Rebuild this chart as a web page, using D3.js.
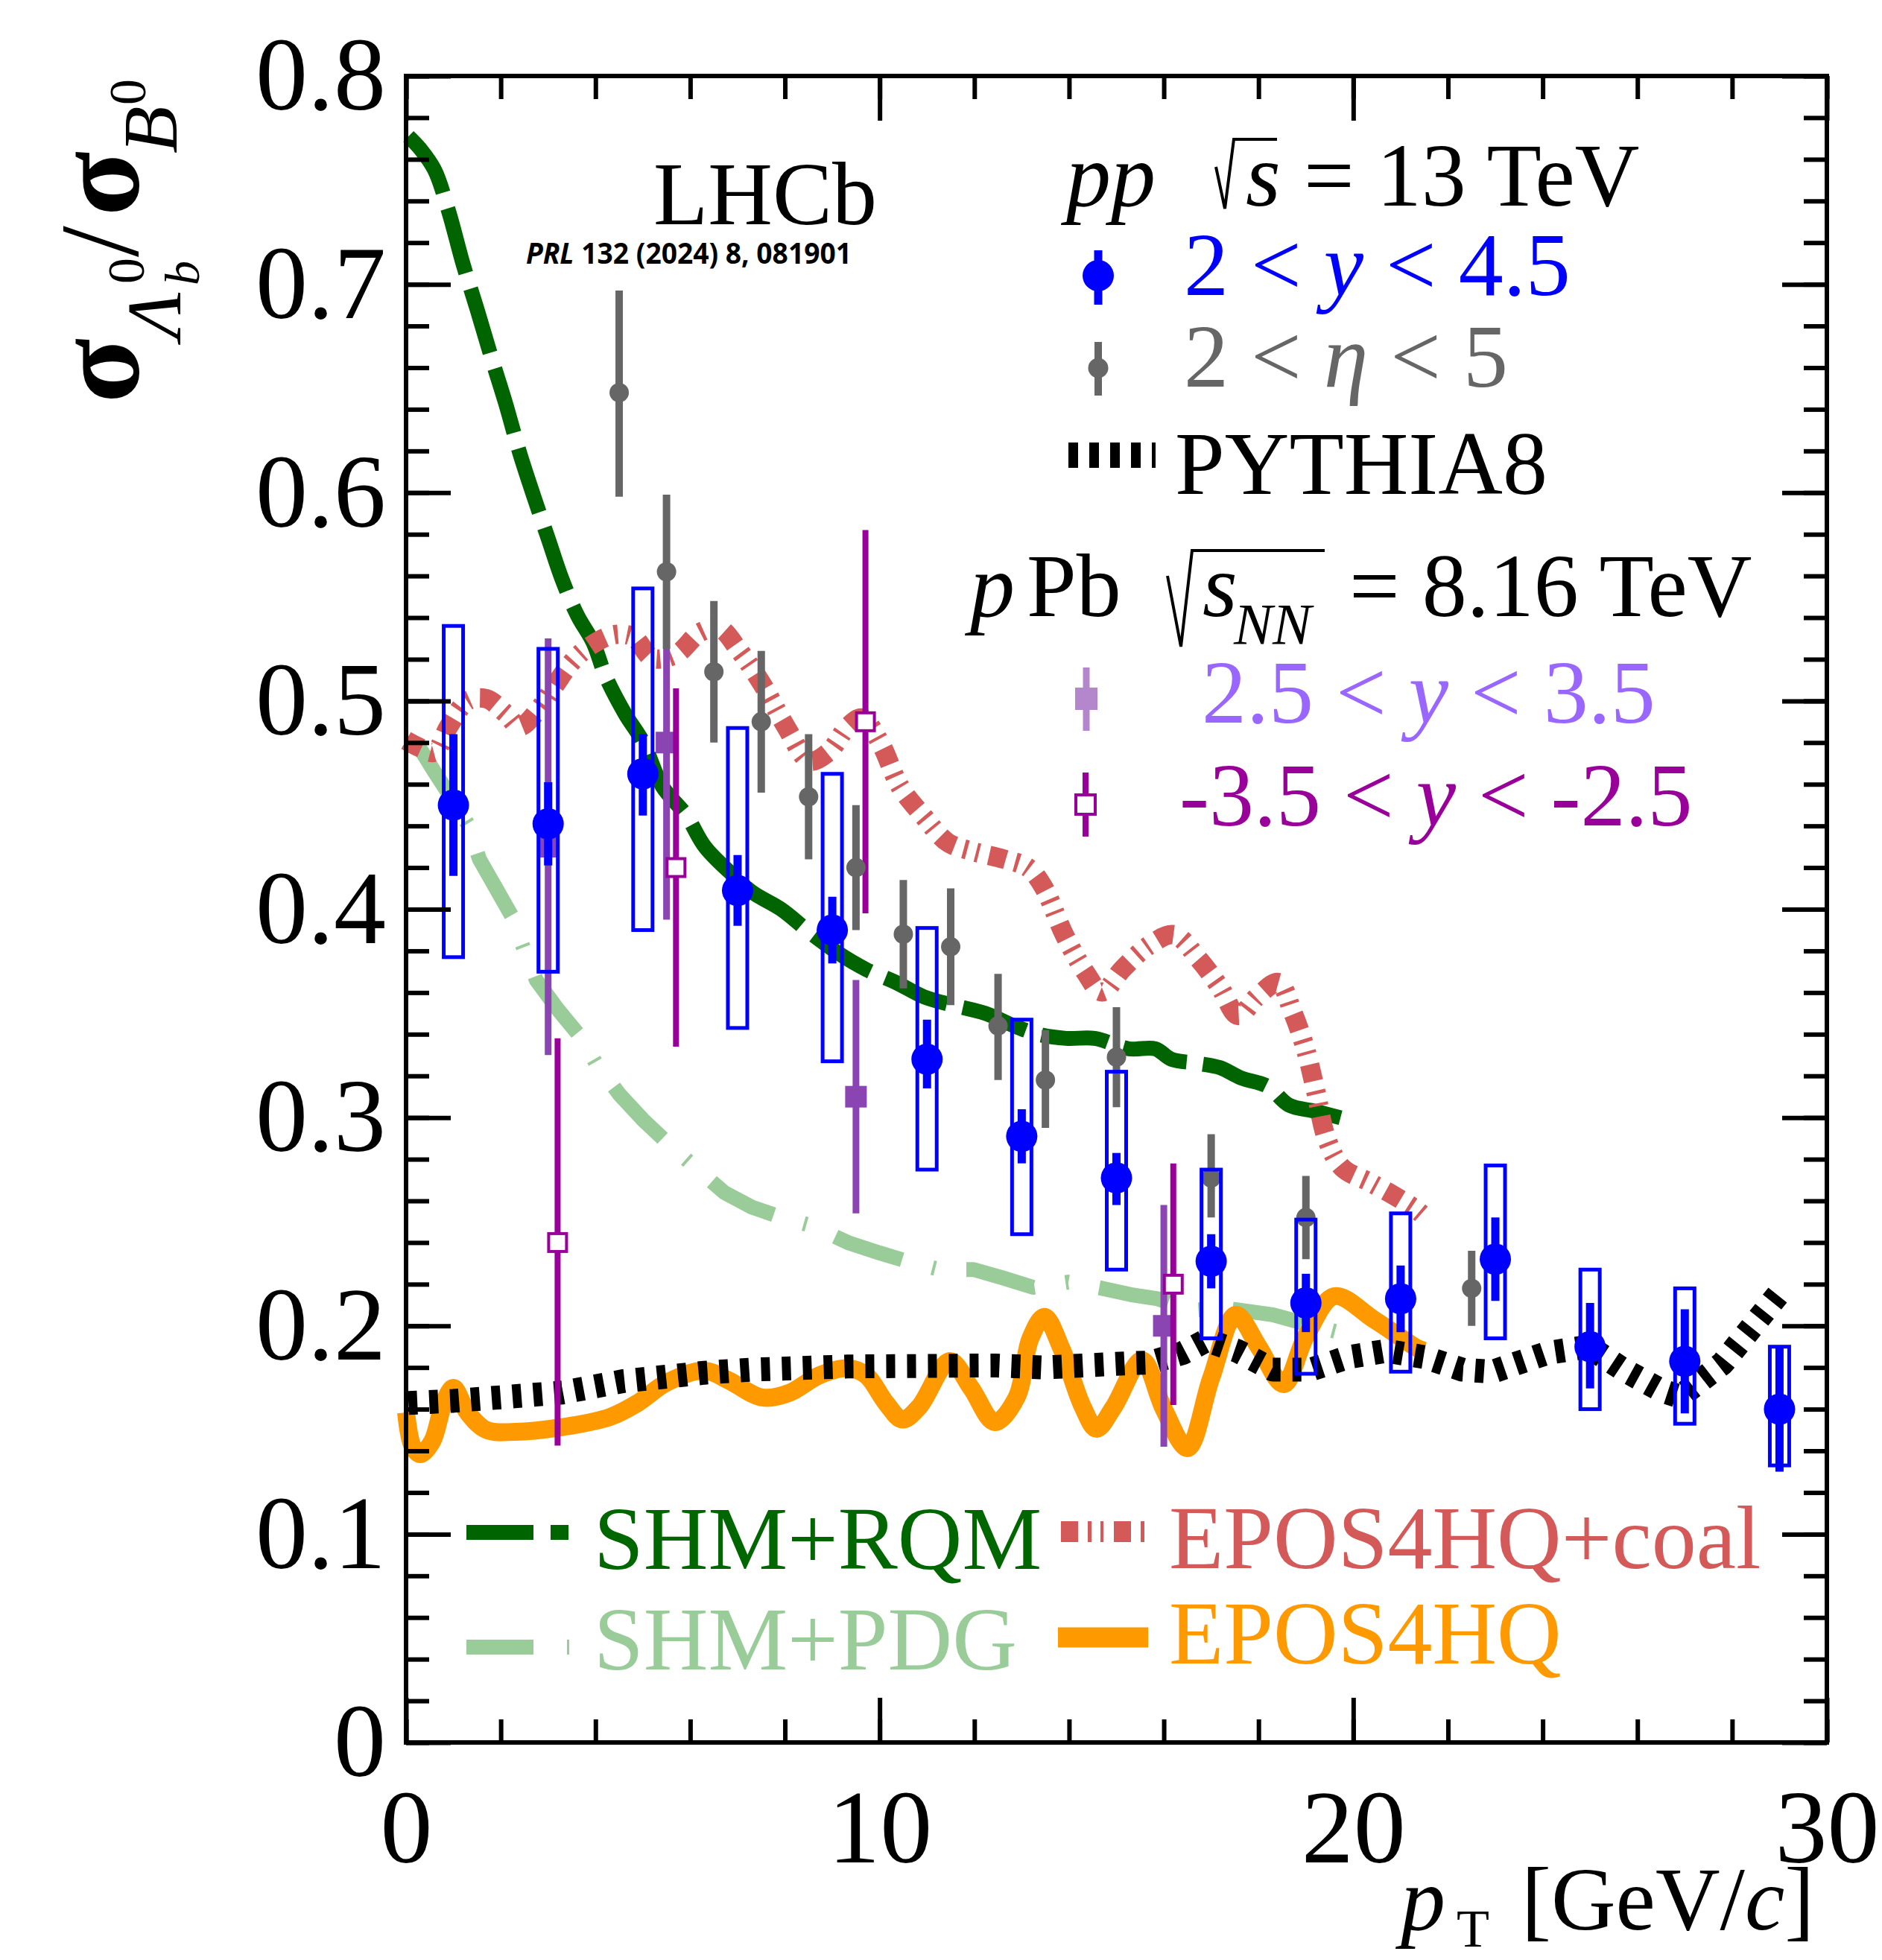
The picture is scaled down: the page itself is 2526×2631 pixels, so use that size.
<!DOCTYPE html>
<html><head><meta charset="utf-8">
<script src="https://cdn.jsdelivr.net/npm/d3@7"></script>
<style>html,body{margin:0;padding:0;background:#fff;} svg{display:block;}</style>
</head><body>
<svg id="chart" width="2526" height="2631"></svg>
<script>
// ---------------- data ----------------
// pp 13 TeV, 2<y<4.5
const ppPt     = [1,3,5,7,9,11,13,15,17,19,21,23,25,27,29];
const ppVal    = [0.450,0.441,0.465,0.409,0.390,0.328,0.291,0.271,0.231,0.211,0.213,0.232,0.190,0.183,0.160];
const ppStatLo = [0.416,0.421,0.445,0.392,0.374,0.314,0.278,0.258,0.218,0.197,0.197,0.212,0.170,0.158,0.130];
const ppStatHi = [0.484,0.461,0.484,0.426,0.406,0.347,0.304,0.283,0.244,0.225,0.229,0.252,0.211,0.208,0.190];
const ppSysLo  = [0.377,0.370,0.390,0.343,0.327,0.275,0.244,0.227,0.194,0.177,0.178,0.194,0.160,0.153,0.133];
const ppSysHi  = [0.536,0.525,0.554,0.487,0.465,0.391,0.347,0.322,0.275,0.251,0.254,0.277,0.227,0.218,0.190];
// pp, 2<eta<5
const etaPt  = [4.5,5.5,6.5,7.5,8.5,9.5,10.5,11.5,12.5,13.5,15,17,19,22.5];
const etaVal = [0.648,0.562,0.514,0.490,0.454,0.420,0.388,0.382,0.344,0.318,0.329,0.271,0.252,0.218];
const etaLo  = [0.598,0.525,0.480,0.456,0.424,0.390,0.362,0.354,0.318,0.295,0.305,0.252,0.232,0.200];
const etaHi  = [0.697,0.599,0.548,0.524,0.484,0.450,0.414,0.410,0.369,0.342,0.353,0.292,0.272,0.236];
// pPb 2.5<y<3.5
const fwdPt  = [3.0,5.5,9.5,16.0];
const fwdVal = [0.430,0.480,0.310,0.200];
const fwdLo  = [0.330,0.395,0.254,0.142];
const fwdHi  = [0.530,0.526,0.366,0.258];
// pPb -3.5<y<-2.5
const bwdPt  = [3.2,5.7,9.7,16.2];
const bwdVal = [0.240,0.420,0.490,0.220];
const bwdLo  = [0.1425,0.334,0.398,0.162];
const bwdHi  = [0.338,0.506,0.582,0.278];
// SHM+RQM
const rqmPt  = [0.05,0.3,0.6,0.9,1.2,1.5,1.8,2.1,2.4,2.7,3.0,3.3,3.62,3.95,4.21,4.62,5.01,5.41,5.92,6.31,6.92,7.32,7.92,8.52,9.12,9.72,10.33,10.93,11.53,12.23,12.84,13.34,13.94,14.54,15.26,15.82,16.16,16.72,17.18,17.63,18.19,18.64,19.2,19.88];
const rqmVal = [0.771,0.765,0.755,0.735,0.710,0.688,0.665,0.643,0.619,0.598,0.578,0.558,0.541,0.528,0.512,0.494,0.480,0.459,0.445,0.430,0.416,0.408,0.400,0.389,0.379,0.371,0.365,0.358,0.354,0.350,0.344,0.340,0.338,0.338,0.333,0.333,0.328,0.326,0.324,0.319,0.315,0.306,0.303,0.299];
// SHM+PDG
const pdgPt  = [0,0.3,0.6,1.0,1.3,1.55,1.9,2.25,2.4,2.75,3.2,3.71,4.01,4.51,5.0,5.51,6.11,6.72,7.3,7.87,8.57,9.33,10.0,10.58,11.28,11.99,12.6,13.24,13.98,14.7,15.3,15.87,16.6,17.29,18.3,19.0,19.84];
const pdgVal = [0.481,0.477,0.466,0.452,0.441,0.424,0.410,0.396,0.386,0.366,0.352,0.338,0.326,0.311,0.299,0.288,0.276,0.264,0.257,0.2525,0.248,0.240,0.235,0.231,0.227,0.227,0.223,0.2185,0.221,0.218,0.215,0.213,0.2075,0.2085,0.2053,0.201,0.196];
// EPOS4HQ+coal
const coalPt  = [0.0,0.3,0.6,0.9,1.3,1.7,2.1,2.4,2.8,3.1,3.5,3.9,4.4,4.8,5.2,5.71,6.21,6.62,7.02,7.52,8.02,8.52,8.92,9.33,9.63,10.02,10.43,10.93,11.44,11.93,12.63,13.13,13.45,13.9,14.35,14.69,15.14,15.71,16.22,16.73,17.18,17.57,17.97,18.42,18.71,18.99,19.21,19.44,19.77,20.34,20.9,21.36,21.58];
const coalVal = [0.481,0.4775,0.4754,0.4877,0.500,0.501,0.494,0.4877,0.496,0.506,0.5186,0.5266,0.5318,0.5307,0.5205,0.5225,0.5329,0.5348,0.5246,0.508,0.4877,0.4712,0.4754,0.4877,0.4918,0.4795,0.4589,0.4445,0.432,0.428,0.424,0.420,0.411,0.3877,0.3695,0.3603,0.3716,0.383,0.3877,0.3762,0.3627,0.349,0.358,0.3648,0.3512,0.333,0.3124,0.2897,0.2759,0.269,0.262,0.2553,0.2508];
// EPOS4HQ
const eposPt  = [0,0.14,0.3,0.55,0.8,1.0,1.3,1.7,2.3,3.3,4.31,4.9,5.5,6.3,6.81,7.52,8.1,8.72,9.33,9.72,10.13,10.48,10.83,11.48,11.93,12.43,12.89,13.18,13.48,13.84,14.29,14.58,14.94,15.54,16.0,16.5,17.0,17.52,18.0,18.53,19.0,19.6,20.45,21.36,21.5];
const eposVal = [0.1584,0.142,0.1384,0.1445,0.1631,0.1702,0.1584,0.150,0.1491,0.1514,0.1563,0.1631,0.1727,0.1785,0.1738,0.1656,0.1679,0.1762,0.1797,0.1762,0.1631,0.155,0.161,0.1831,0.1702,0.1538,0.1656,0.1938,0.2043,0.189,0.161,0.1506,0.161,0.1835,0.160,0.1413,0.175,0.2053,0.190,0.172,0.195,0.2142,0.2028,0.1892,0.188];
// PYTHIA8
const pyPt  = [0.05,1.0,2.0,3.3,4.6,6.3,7.3,9.33,12.43,13.45,15.2,15.71,16.4,16.9,17.55,18.3,19.1,19.9,20.7,21.5,22.3,22.94,24.1,24.97,25.7,26.5,26.9,27.8,29.04];
const pyVal = [0.163,0.164,0.1657,0.168,0.1735,0.1775,0.179,0.1805,0.181,0.180,0.182,0.1824,0.187,0.193,0.188,0.179,0.179,0.185,0.188,0.185,0.179,0.178,0.187,0.190,0.179,0.169,0.166,0.182,0.217];
// ticks
const xMajor = [0,10,20,30];
const xMinor = d3.range(0,31,2);
const yMajor = [0,0.1,0.2,0.3,0.4,0.5,0.6,0.7,0.8];
const yMinor = d3.range(0,0.8001,0.02);

// ---------------- layout ----------------
const X0=545,X1=2452,Y0=2339,Y1=102;
const x=d3.scaleLinear().domain([0,30]).range([X0,X1]);
const y=d3.scaleLinear().domain([0,0.8]).range([Y0,Y1]);
const svg=d3.select('#chart');
const FONT='"Liberation Serif","Times New Roman",serif';
svg.append('rect').attr('width',2526).attr('height',2631).attr('fill','#fff');

// ---------------- theory curves ----------------
function curve(pts, vals, color, width, dash, interp){
  const line=d3.line().x(d=>x(d[0])).y(d=>y(d[1])).curve(interp||d3.curveLinear);
  svg.append('path').attr('d', line(d3.zip(pts,vals))).attr('fill','none')
    .attr('stroke',color).attr('stroke-width',width).attr('stroke-dasharray',dash||null)
    .attr('stroke-linejoin','round');
}
curve(pdgPt,pdgVal,'#99cc99',20,'95,42,4,42');
curve(rqmPt,rqmVal,'#006400',20,'90,22',d3.curveCatmullRom);
curve(coalPt,coalVal,'#d45a5a',26,'23,13,5,12,4,14',d3.curveCatmullRom);
curve(eposPt,eposVal,'#ff9900',24,null,d3.curveCatmullRom);
curve(pyPt,pyVal,'#000000',32,'12,16');

// ---------------- data ----------------
const idx=a=>d3.range(a.length);
// pPb forward (lavender)
const LAV='#8b45b3';
svg.append('g').selectAll('line').data(idx(fwdPt)).join('line')
  .attr('x1',i=>x(fwdPt[i])).attr('x2',i=>x(fwdPt[i])).attr('y1',i=>y(fwdLo[i])).attr('y2',i=>y(fwdHi[i]))
  .attr('stroke',LAV).attr('stroke-width',9);
svg.append('g').selectAll('rect').data(idx(fwdPt)).join('rect')
  .attr('x',i=>x(fwdPt[i])-14.5).attr('y',i=>y(fwdVal[i])-14.5).attr('width',29).attr('height',29).attr('fill',LAV);
// pPb backward (purple open squares)
svg.append('g').selectAll('line').data(idx(bwdPt)).join('line')
  .attr('x1',i=>x(bwdPt[i])).attr('x2',i=>x(bwdPt[i])).attr('y1',i=>y(bwdLo[i])).attr('y2',i=>y(bwdHi[i]))
  .attr('stroke','#990099').attr('stroke-width',8);
svg.append('g').selectAll('rect').data(idx(bwdPt)).join('rect')
  .attr('x',i=>x(bwdPt[i])-12).attr('y',i=>y(bwdVal[i])-12).attr('width',24).attr('height',24)
  .attr('fill','#fff').attr('stroke','#990099').attr('stroke-width',4);
// pp eta (gray)
svg.append('g').selectAll('line').data(idx(etaPt)).join('line')
  .attr('x1',i=>x(etaPt[i])).attr('x2',i=>x(etaPt[i])).attr('y1',i=>y(etaLo[i])).attr('y2',i=>y(etaHi[i]))
  .attr('stroke','#666666').attr('stroke-width',10);
svg.append('g').selectAll('circle').data(idx(etaPt)).join('circle')
  .attr('cx',i=>x(etaPt[i])).attr('cy',i=>y(etaVal[i])).attr('r',13).attr('fill','#666666');
// pp y (blue)
svg.append('g').selectAll('rect').data(idx(ppPt)).join('rect')
  .attr('x',i=>x(ppPt[i])-13).attr('y',i=>y(ppSysHi[i])).attr('width',26)
  .attr('height',i=>y(ppSysLo[i])-y(ppSysHi[i])).attr('fill','none').attr('stroke','#0000ff').attr('stroke-width',5);
svg.append('g').selectAll('line').data(idx(ppPt)).join('line')
  .attr('x1',i=>x(ppPt[i])).attr('x2',i=>x(ppPt[i])).attr('y1',i=>y(ppStatLo[i])).attr('y2',i=>y(ppStatHi[i]))
  .attr('stroke','#0000ff').attr('stroke-width',11);
svg.append('g').selectAll('circle').data(idx(ppPt)).join('circle')
  .attr('cx',i=>x(ppPt[i])).attr('cy',i=>y(ppVal[i])).attr('r',21).attr('fill','#0000ff');

// ---------------- axes ----------------
function styleAxis(g){ g.select('.domain').remove(); g.selectAll('line').attr('stroke','#000').attr('stroke-width',6); }
svg.append('g').attr('transform',`translate(0,${Y0})`).call(d3.axisBottom(x).tickValues(xMinor).tickSize(-31).tickSizeOuter(0).tickFormat('')).call(styleAxis);
svg.append('g').attr('transform',`translate(0,${Y1})`).call(d3.axisTop(x).tickValues(xMinor).tickSize(-31).tickSizeOuter(0).tickFormat('')).call(styleAxis);
svg.append('g').attr('transform',`translate(0,${Y1})`).call(d3.axisTop(x).tickValues(xMajor).tickSize(-60).tickSizeOuter(0).tickFormat('')).call(styleAxis);
svg.append('g').attr('transform',`translate(${X0},0)`).call(d3.axisLeft(y).tickValues(yMinor).tickSize(-31).tickSizeOuter(0).tickFormat('')).call(styleAxis);
svg.append('g').attr('transform',`translate(${X1},0)`).call(d3.axisRight(y).tickValues(yMinor).tickSize(-31).tickSizeOuter(0).tickFormat('')).call(styleAxis);
svg.append('g').attr('transform',`translate(${X1},0)`).call(d3.axisRight(y).tickValues(yMajor).tickSize(-60).tickSizeOuter(0).tickFormat('')).call(styleAxis);
const gxM=svg.append('g').attr('transform',`translate(0,${Y0})`)
  .call(d3.axisBottom(x).tickValues(xMajor).tickSize(-60).tickSizeOuter(0).tickPadding(62).tickFormat(d3.format('d'))).call(styleAxis);
gxM.selectAll('text').attr('font-family',FONT).attr('font-size',140).attr('fill','#000');
const gyM=svg.append('g').attr('transform',`translate(${X0},0)`)
  .call(d3.axisLeft(y).tickValues(yMajor).tickSize(-60).tickSizeOuter(0).tickPadding(27).tickFormat(d=>d===0?'0':d3.format('.1f')(d))).call(styleAxis);
gyM.selectAll('text').attr('font-family',FONT).attr('font-size',140).attr('fill','#000');
svg.append('rect').attr('x',X0).attr('y',Y1).attr('width',X1-X0).attr('height',Y0-Y1)
  .attr('fill','none').attr('stroke','#000').attr('stroke-width',6);

// ---------------- text helpers ----------------
function t(g,str,lx,ly,size,o={}){
  return g.append('text').attr('x',lx).attr('y',ly).attr('font-family',o.font||FONT).attr('font-size',size)
    .attr('font-weight',o.bold?'bold':null).attr('font-style',o.italic?'italic':null)
    .attr('fill',o.color||'#000').text(str);
}

// y title (rotated)
const yt=svg.append('g').attr('transform','translate(185,0) rotate(-90)');
t(yt,'σ',-541,0,160,{bold:true});
t(yt,'Λ',-455,57,104,{italic:true});
t(yt,'0',-381,8,70);
t(yt,'b',-383,82,66,{italic:true});
t(yt,'/',-345,0,150);
t(yt,'σ',-290,0,160,{bold:true});
t(yt,'B',-206,52,104,{italic:true});
t(yt,'0',-141,10,70);

// x title
const xt=svg.append('text').attr('font-family',FONT).attr('font-size',120).attr('y',2590).attr('fill','#000');
xt.append('tspan').attr('x',1880).attr('font-style','italic').text('p');
xt.append('tspan').attr('x',1955).attr('y',2613).attr('font-size',72).text('T');
xt.append('tspan').attr('x',2042).attr('y',2590).text('[GeV/');
xt.append('tspan').attr('font-style','italic').text('c');
xt.append('tspan').text(']');

// LHCb label
t(svg,'LHCb',877,301,120);
const prl=svg.append('text').attr('x',706).attr('y',354).attr('font-family','"Open Sans","Liberation Sans",sans-serif')
  .attr('font-size',40).attr('font-weight','bold').attr('textLength',437).attr('lengthAdjust','spacingAndGlyphs').attr('fill','#000');
prl.append('tspan').attr('font-style','italic').text('PRL');
prl.append('tspan').text(' 132 (2024) 8, 081901');

// ---------------- legend (top right) ----------------
const r1=svg.append('text').attr('font-family',FONT).attr('font-size',120).attr('y',276).attr('fill','#000');
r1.append('tspan').attr('x',1431).attr('font-style','italic').text('pp');
r1.append('tspan').attr('x',1672).attr('font-style','italic').text('s');
r1.append('tspan').attr('x',1750).text('= 13 TeV');
svg.append('path').attr('d','M1632,224 L1644,280 L1656,187 L1714,187').attr('fill','none').attr('stroke','#000').attr('stroke-width',4);

// blue
svg.append('line').attr('x1',1474).attr('x2',1474).attr('y1',336).attr('y2',409).attr('stroke','#0000ff').attr('stroke-width',11);
svg.append('circle').attr('cx',1474).attr('cy',370).attr('r',21).attr('fill','#0000ff');
const r2=svg.append('text').attr('font-family',FONT).attr('font-size',120).attr('x',1589).attr('y',396).attr('fill','#0000ff');
r2.append('tspan').text('2 < ');
r2.append('tspan').attr('font-style','italic').text('y');
r2.append('tspan').text(' < 4.5');
// gray
svg.append('line').attr('x1',1474).attr('x2',1474).attr('y1',459).attr('y2',531).attr('stroke','#666666').attr('stroke-width',10);
svg.append('circle').attr('cx',1474).attr('cy',494).attr('r',13.5).attr('fill','#666666');
const r3=svg.append('text').attr('font-family',FONT).attr('font-size',120).attr('x',1589).attr('y',519).attr('fill','#666666');
r3.append('tspan').text('2 < ');
r3.append('tspan').attr('font-style','italic').text('η');
r3.append('tspan').text(' < 5');
// pythia
svg.append('line').attr('x1',1434).attr('x2',1551).attr('y1',611).attr('y2',611).attr('stroke','#000').attr('stroke-width',34).attr('stroke-dasharray','13,15');
t(svg,'PYTHIA8',1577,663,120);
// pPb header
const r5=svg.append('text').attr('font-family',FONT).attr('font-size',120).attr('y',827).attr('fill','#000');
r5.append('tspan').attr('x',1302).attr('font-style','italic').text('p');
r5.append('tspan').attr('x',1378).text('Pb');
r5.append('tspan').attr('x',1614).attr('font-style','italic').text('s');
r5.append('tspan').attr('x',1656).attr('y',864).attr('font-size',78).attr('font-style','italic').text('NN');
r5.append('tspan').attr('x',1811).attr('y',827).text('= 8.16 TeV');
svg.append('path').attr('d','M1567,773 L1585,868 L1600,739 L1778,739').attr('fill','none').attr('stroke','#000').attr('stroke-width',4);
// lavender
svg.append('line').attr('x1',1458).attr('x2',1458).attr('y1',896).attr('y2',981).attr('stroke','#b487cc').attr('stroke-width',9);
svg.append('rect').attr('x',1443).attr('y',923).attr('width',30).attr('height',30).attr('fill','#b487cc');
const r6=svg.append('text').attr('font-family',FONT).attr('font-size',120).attr('x',1613).attr('y',970).attr('fill','#9966ff');
r6.append('tspan').text('2.5 < ');
r6.append('tspan').attr('font-style','italic').text('y');
r6.append('tspan').text(' < 3.5');
// purple
svg.append('line').attr('x1',1457).attr('x2',1457).attr('y1',1037).attr('y2',1123).attr('stroke','#990099').attr('stroke-width',8);
svg.append('rect').attr('x',1444).attr('y',1067).attr('width',26).attr('height',26).attr('fill','#fff').attr('stroke','#990099').attr('stroke-width',4);
const r7=svg.append('text').attr('font-family',FONT).attr('font-size',120).attr('x',1583).attr('y',1108).attr('fill','#990099');
r7.append('tspan').text('-3.5 < ');
r7.append('tspan').attr('font-style','italic').text('y');
r7.append('tspan').text(' < -2.5');

// ---------------- legend (bottom) ----------------
svg.append('line').attr('x1',626).attr('x2',716).attr('y1',2057).attr('y2',2057).attr('stroke','#006400').attr('stroke-width',20);
svg.append('line').attr('x1',739).attr('x2',763).attr('y1',2057).attr('y2',2057).attr('stroke','#006400').attr('stroke-width',20);
t(svg,'SHM+RQM',797,2106,120,{color:'#006600'});
svg.append('line').attr('x1',626).attr('x2',716).attr('y1',2211).attr('y2',2211).attr('stroke','#99cc99').attr('stroke-width',20);
svg.append('line').attr('x1',761).attr('x2',764).attr('y1',2211).attr('y2',2211).attr('stroke','#99cc99').attr('stroke-width',20);
t(svg,'SHM+PDG',797,2241,120,{color:'#99cc99'});
svg.append('line').attr('x1',1424).attr('x2',1537).attr('y1',2056).attr('y2',2056).attr('stroke','#d45a5a').attr('stroke-width',28).attr('stroke-dasharray','23,13,5,12,4,14');
t(svg,'EPOS4HQ+coal',1569,2105,120,{color:'#d45a5a'});
svg.append('line').attr('x1',1420).attr('x2',1541).attr('y1',2198).attr('y2',2198).attr('stroke','#ff9900').attr('stroke-width',27);
t(svg,'EPOS4HQ',1569,2233,120,{color:'#ff9900'});
</script>
</body></html>
